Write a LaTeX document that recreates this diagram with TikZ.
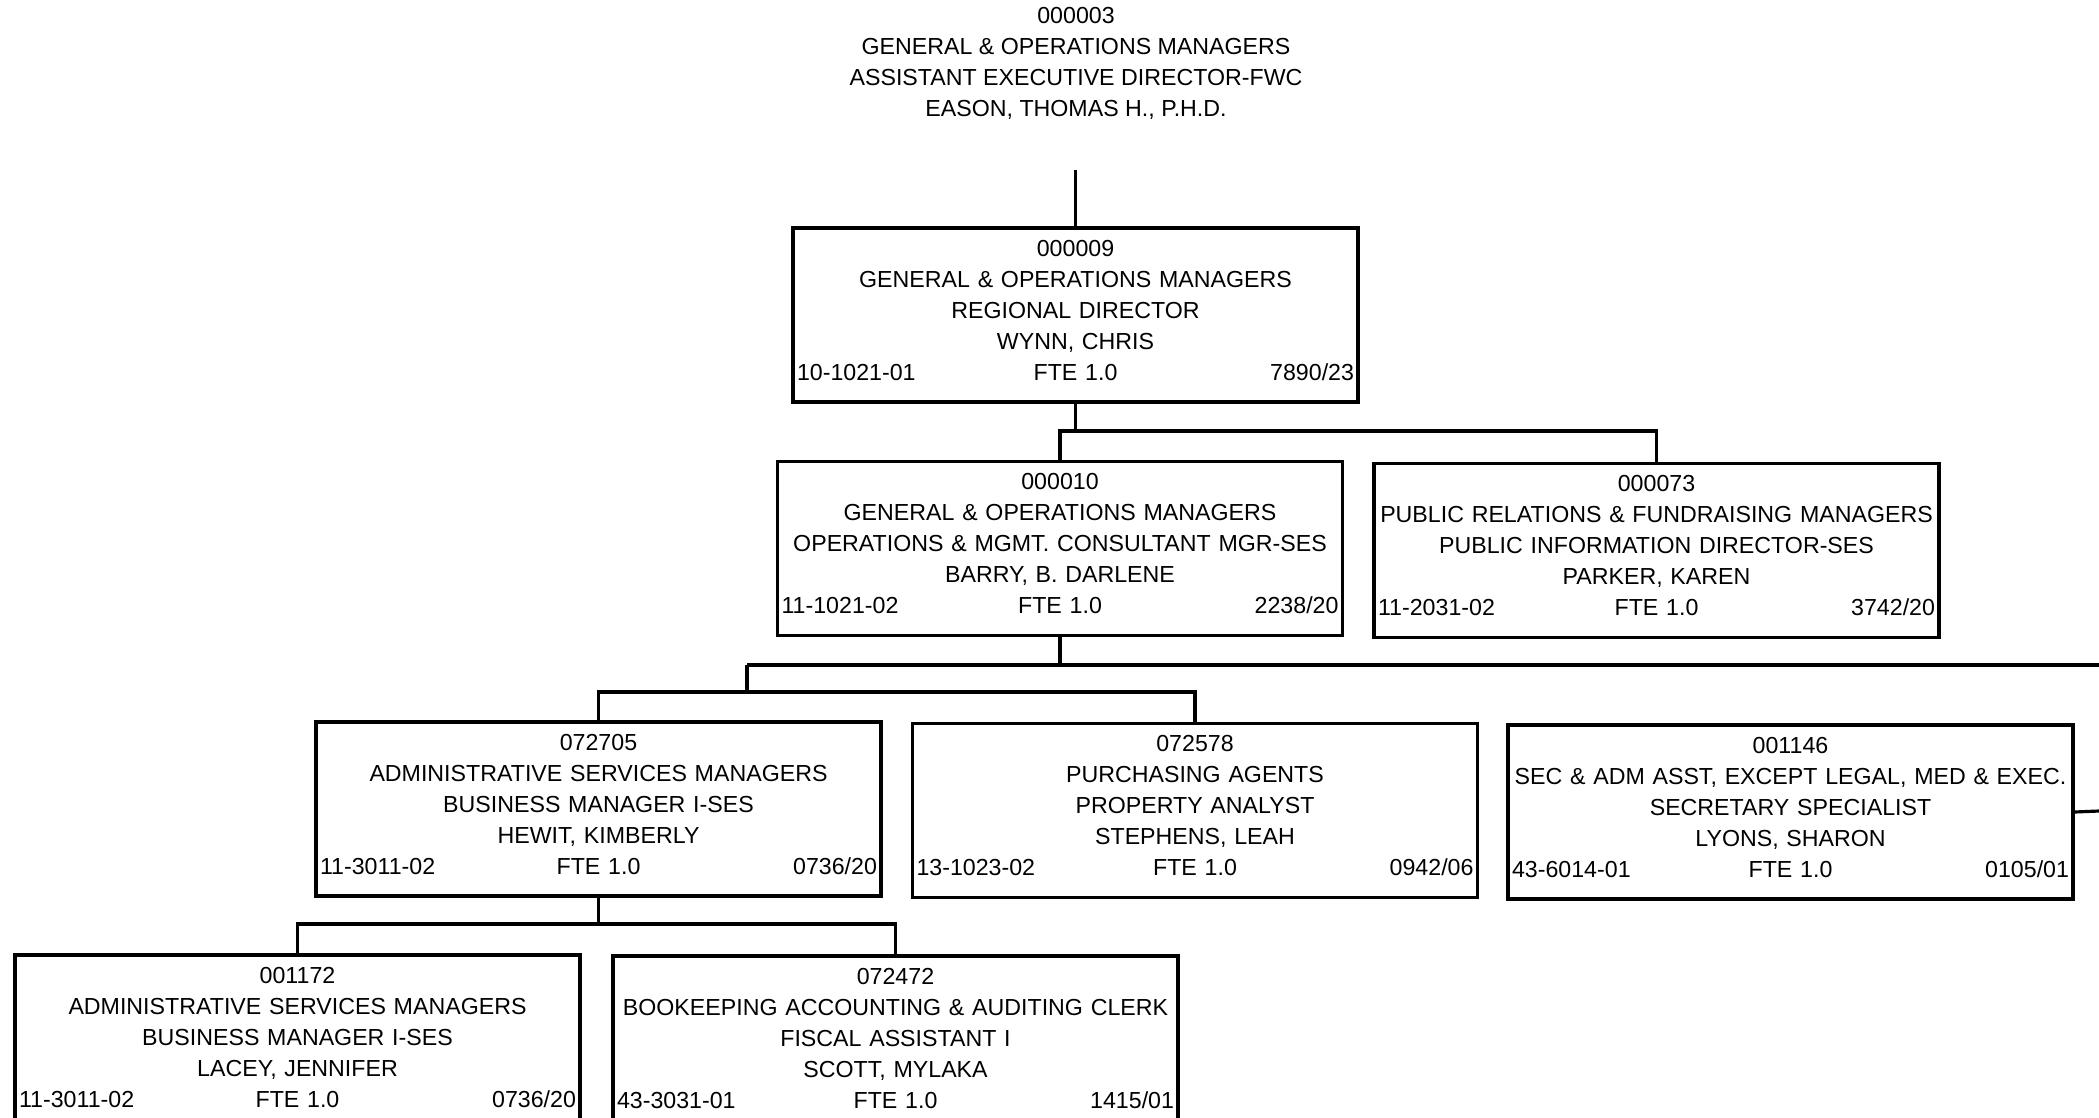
\documentclass[tikz,border=0pt]{standalone}
\usepackage{fontspec}
\setmainfont{Liberation Sans}

\newlength\rowwidth
\setlength\rowwidth{5.57cm}
\newcommand{\chartfont}{\fontsize{6.6}{8.82}\selectfont}
% bottom row of a position box: class code, FTE, position number
\newcommand{\coderow}[3]{\makebox[\rowwidth]{\rlap{#1}\hfill#2\hfill\llap{#3}}\rule[-0.1cm]{0pt}{0pt}}

\begin{document}
\begin{tikzpicture}[
    heading/.style={
        font=\chartfont,
        align=center
    },
    position/.style={
        draw,
        line width=0.9pt,
        font=\chartfont,
        align=center,
        text width=\rowwidth,
        inner xsep=0.04cm,
        inner ysep=0pt,
        minimum height=1.74cm
    },
    link/.style={
        draw=black,
        line width=0.9pt
    }
]

\useasboundingbox (0,0) rectangle (20.99,-11.17);
\clip (0,0) rectangle (20.99,-11.17);

% Vertical levels of the connector buses
\def\BusOneY{-4.31}
\def\BusTwoY{-6.65}
\def\BusThreeY{-6.92}
\def\BusFourY{-9.24}

% ==================================================
% Top of the chart
% ==================================================

\node[heading] (director) at (10.76,-0.635)
    {000003\\GENERAL \& OPERATIONS MANAGERS\\ASSISTANT EXECUTIVE DIRECTOR-FWC\\EASON, THOMAS H., P.H.D.};

\node[position] (regional) at (10.755,-3.15)
    {000009\\GENERAL \& OPERATIONS MANAGERS\\REGIONAL DIRECTOR\\WYNN, CHRIS\\
     \coderow{10-1021-01}{FTE 1.0}{7890/23}};

% ==================================================
% Second level
% ==================================================

\node[position] (ops) at (10.60,-5.485)
    {000010\\GENERAL \& OPERATIONS MANAGERS\\OPERATIONS \& MGMT. CONSULTANT MGR-SES\\BARRY, B. DARLENE\\
     \coderow{11-1021-02}{FTE 1.0}{2238/20}};

\node[position] (publicinfo) at (16.565,-5.505)
    {000073\\PUBLIC RELATIONS \& FUNDRAISING MANAGERS\\PUBLIC INFORMATION DIRECTOR-SES\\PARKER, KAREN\\
     \coderow{11-2031-02}{FTE 1.0}{3742/20}};

% ==================================================
% Third level
% ==================================================

\node[position] (business) at (5.985,-8.09)
    {072705\\ADMINISTRATIVE SERVICES MANAGERS\\BUSINESS MANAGER I-SES\\HEWIT, KIMBERLY\\
     \coderow{11-3011-02}{FTE 1.0}{0736/20}};

\node[position] (property) at (11.95,-8.105)
    {072578\\PURCHASING AGENTS\\PROPERTY ANALYST\\STEPHENS, LEAH\\
     \coderow{13-1023-02}{FTE 1.0}{0942/06}};

\node[position] (secretary) at (17.905,-8.12)
    {001146\\SEC \& ADM ASST, EXCEPT LEGAL, MED \& EXEC.\\SECRETARY SPECIALIST\\LYONS, SHARON\\
     \coderow{43-6014-01}{FTE 1.0}{0105/01}};

% ==================================================
% Fourth level
% ==================================================

\node[position] (lacey) at (2.975,-10.42)
    {001172\\ADMINISTRATIVE SERVICES MANAGERS\\BUSINESS MANAGER I-SES\\LACEY, JENNIFER\\
     \coderow{11-3011-02}{FTE 1.0}{0736/20}};

\node[position] (fiscal) at (8.955,-10.43)
    {072472\\BOOKEEPING ACCOUNTING \& AUDITING CLERK\\FISCAL ASSISTANT I\\SCOTT, MYLAKA\\
     \coderow{43-3031-01}{FTE 1.0}{1415/01}};

% ==================================================
% Connectors
% ==================================================

\coordinate (topfoot) at (10.755,-1.70);
\coordinate (busone) at (0,\BusOneY);
\coordinate (bustwo) at (7.47,\BusTwoY);
\coordinate (bustwoend) at (20.99,\BusTwoY);
\coordinate (busthree) at (7.47,\BusThreeY);
\coordinate (busfour) at (0,\BusFourY);
\coordinate (sideend) at (20.99,-8.11);

\draw[link] (topfoot) -- (regional.north);

\draw[link] (regional.south) -- (regional.south |- busone);
\draw[link] (ops.north) |- (publicinfo.north |- busone) -- (publicinfo.north);

\draw[link] (ops.south) -- (ops.south |- bustwo);
\draw[link] (bustwo) -- (bustwoend);
\draw[link] (bustwo) -- (busthree);
\draw[link] (business.north) |- (busthree) -| (property.north);

% the secretary hangs off a line that runs on past the page
\draw[link] (secretary.east) -- (sideend);

\draw[link] (business.south) -- (business.south |- busfour);
\draw[link] (lacey.north) |- (fiscal.north |- busfour) -- (fiscal.north);

\end{tikzpicture}
\end{document}
